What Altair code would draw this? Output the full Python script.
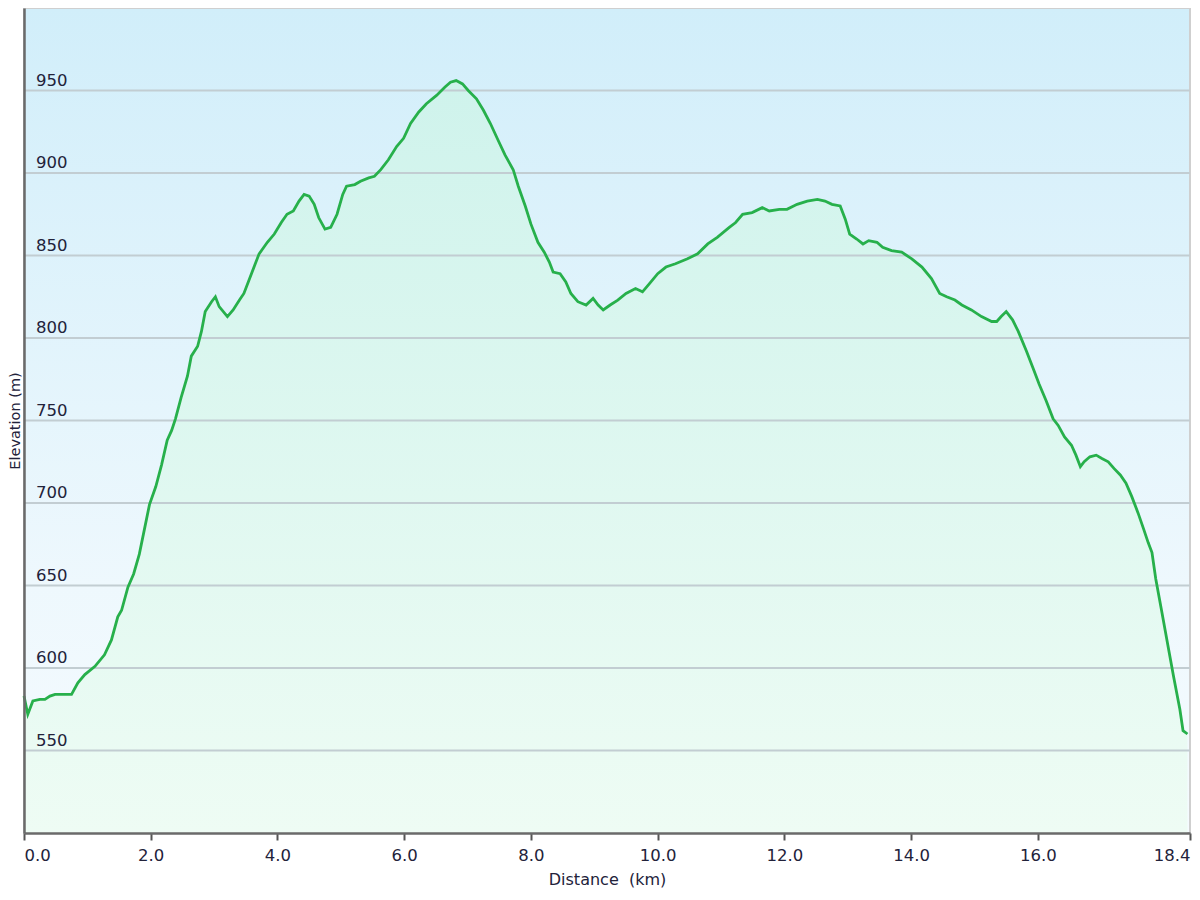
import altair as alt
import pandas as pd

distance_km = [
    0.00, 0.06, 0.14, 0.25, 0.33, 0.41, 0.49, 0.75, 0.85, 0.96, 1.12, 1.27, 1.38, 1.48,
    1.54, 1.64, 1.73, 1.82, 1.90, 1.98, 2.08, 2.17, 2.26, 2.33, 2.39, 2.48, 2.58, 2.64,
    2.74, 2.80, 2.86, 2.96, 3.02, 3.08, 3.21, 3.30, 3.40, 3.47, 3.55, 3.63, 3.71, 3.84,
    3.95, 4.06, 4.15, 4.25, 4.34, 4.42, 4.50, 4.58, 4.65, 4.75, 4.84, 4.94, 5.03, 5.09,
    5.22, 5.31, 5.44, 5.53, 5.63, 5.75, 5.88, 5.99, 6.10, 6.23, 6.35, 6.51, 6.64, 6.73,
    6.82, 6.92, 7.01, 7.14, 7.25, 7.36, 7.48, 7.59, 7.72, 7.80, 7.91, 8.00, 8.11, 8.21,
    8.29, 8.35, 8.46, 8.55, 8.63, 8.74, 8.87, 8.98, 9.06, 9.14, 9.25, 9.37, 9.50, 9.65,
    9.76, 9.87, 10.00, 10.13, 10.28, 10.47, 10.63, 10.79, 10.94, 11.13, 11.23, 11.34,
    11.49, 11.65, 11.76, 11.92, 12.04, 12.20, 12.36, 12.52, 12.64, 12.75, 12.88, 12.96,
    13.03, 13.14, 13.24, 13.33, 13.46, 13.55, 13.69, 13.85, 14.01, 14.17, 14.32, 14.45,
    14.56, 14.69, 14.80, 14.95, 15.11, 15.27, 15.35, 15.42, 15.50, 15.60, 15.69, 15.82,
    15.93, 16.02, 16.13, 16.24, 16.32, 16.42, 16.53, 16.60, 16.67, 16.73, 16.82, 16.92,
    17.01, 17.11, 17.20, 17.30, 17.39, 17.48, 17.58, 17.67, 17.74, 17.80, 17.86, 17.96,
    18.05, 18.14, 18.24, 18.29, 18.36,
]

elevation_m = [
    583, 572, 580, 581, 581, 583, 584, 584, 591, 596, 601, 608, 617, 631,
    635, 649, 657, 669, 684, 699, 710, 723, 738, 744, 751, 764, 777, 789,
    795, 804, 816, 822, 825, 819, 813, 817, 823, 827, 835, 843, 851, 858,
    863, 870, 875, 877, 883, 887, 886, 881, 873, 866, 867, 875, 887, 892,
    893, 895, 897, 898, 902, 908, 916, 921, 930, 937, 942, 947, 952, 955,
    956, 954, 950, 945, 938, 930, 920, 911, 902, 892, 880, 869, 858, 852,
    846, 840, 839, 834, 827, 822, 820, 824, 820, 817, 820, 823, 827, 830,
    828, 833, 839, 843, 845, 848, 851, 857, 861, 867, 870, 875,
    876, 879, 877, 878, 878, 881, 883, 884, 883, 881, 880, 872,
    863, 860, 857, 859, 858, 855, 853, 852, 848, 843, 836, 827,
    825, 823, 820, 817, 813, 810, 810, 813, 816, 811, 804, 792,
    781, 772, 762, 751, 747, 740, 735, 729, 722, 725, 728, 729,
    727, 725, 721, 717, 712, 704, 694, 684, 676, 670, 654, 633,
    614, 595, 575, 562, 560,
]

y_ticks = [550, 600, 650, 700, 750, 800, 850, 900, 950]
x_ticks = [0, 2, 4, 6, 8, 10, 12, 14, 16, 18.4]

W, H = 1166, 825
FONT = "DejaVu Sans"
TXT = "#22223a"

df = pd.DataFrame({"d": distance_km, "e": elevation_m})
ticks_df = pd.DataFrame({"v": y_ticks})

xs = alt.Scale(domain=[0, 18.4], nice=False, zero=False)
ys = alt.Scale(domain=[500, 1000], nice=False, zero=False)

xaxis = alt.Axis(values=x_ticks, format=".1f", labelFlush=True, grid=False,
                 tickSize=7, tickWidth=2, tickColor="#555555",
                 domainColor="#6a6a6a", domainWidth=2.5,
                 labelPadding=7, labelFontSize=16.5, labelFont=FONT, labelColor=TXT,
                 titleFontSize=16, titleFont=FONT, titleColor=TXT,
                 titleFontWeight="normal", titlePadding=8, zindex=1)
yaxis = alt.Axis(labels=False, ticks=False, grid=False,
                 domainColor="#6a6a6a", domainWidth=2.5,
                 titleFontSize=14.5, titleFont=FONT, titleColor=TXT,
                 titleFontWeight="normal", titlePadding=2, zindex=1)

Y_TITLE = "Elevation (m)"
X_TITLE = "Distance\u00a0 (km)"

bg = alt.Chart(pd.DataFrame({"k": [0]})).mark_rect(
    fill=alt.Gradient(gradient="linear",
                      stops=[alt.GradientStop(color="#d1eefa", offset=0),
                             alt.GradientStop(color="#eef8fd", offset=0.7),
                             alt.GradientStop(color="#f5fbff", offset=1)],
                      x1=0, x2=0, y1=0, y2=1),
    stroke="#cfcfcf", strokeWidth=2,
).encode(x=alt.value(0), x2=alt.value(W), y=alt.value(0), y2=alt.value(H))

area = alt.Chart(df).mark_area(
    fill=alt.Gradient(gradient="linear",
                      stops=[alt.GradientStop(color="#cff3ec", offset=0),
                             alt.GradientStop(color="#eefcf4", offset=1)],
                      x1=0, x2=0, y1=0, y2=1),
).encode(
    x=alt.X("d:Q", scale=xs, axis=xaxis, title=X_TITLE),
    y=alt.Y("e:Q", scale=ys, axis=yaxis, title=Y_TITLE),
    y2=alt.datum(500),
)

grid = alt.Chart(ticks_df).mark_rule(color="#c2cdd2", strokeWidth=2).encode(
    y=alt.Y("v:Q", scale=ys, axis=yaxis, title=Y_TITLE),
)

line = alt.Chart(df).mark_line(color="#27b04b", strokeWidth=2.8).encode(
    x=alt.X("d:Q", scale=xs, axis=xaxis, title=X_TITLE),
    y=alt.Y("e:Q", scale=ys, axis=yaxis, title=Y_TITLE),
)

labels = alt.Chart(ticks_df).mark_text(
    align="left", baseline="alphabetic", dy=-5, fontSize=16.5, font=FONT, color=TXT,
).encode(
    x=alt.value(12),
    y=alt.Y("v:Q", scale=ys, axis=yaxis, title=Y_TITLE),
    text=alt.Text("v:Q"),
)

chart = alt.layer(bg, area, grid, line, labels).properties(
    width=W, height=H,
    autosize=alt.AutoSizeParams(type="none"),
    padding={"left": 16, "top": 0, "right": 2, "bottom": 55},
    background="white",
).configure_view(strokeWidth=0)

chart.save("out.html", embed_options={"renderer": "svg", "actions": False})
